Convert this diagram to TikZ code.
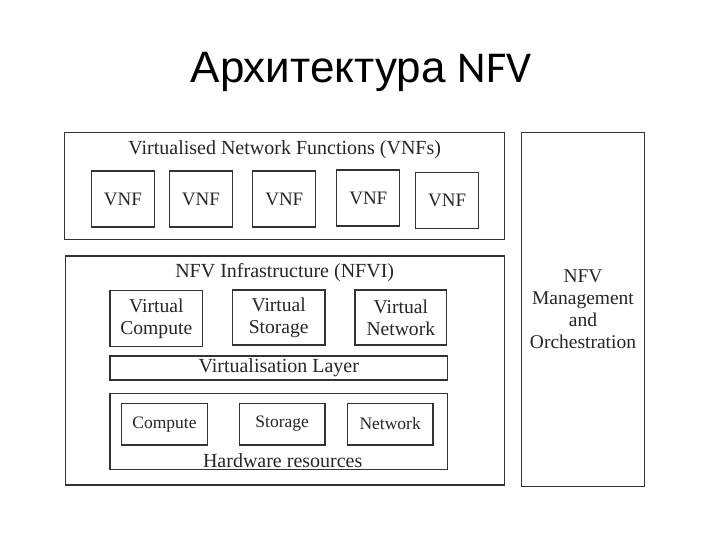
\documentclass[tikz,border=0pt]{standalone}
\usepackage{fontspec}
\setmainfont{Liberation Serif}
\newfontfamily\titlefont{Liberation Sans}
\newfontfamily\calibrifont{Carlito}
\usepackage{tikz}
\usetikzlibrary{positioning}

\begin{document}
\begin{tikzpicture}[
    x=1pt, y=-1pt,
    box/.style={rectangle, draw=black!80, line width=1.3pt, inner sep=0pt, align=center, text=black!85},
    lbl/.style={font=\fontsize{20}{23}\selectfont, text=black!85, inner sep=0pt},
    inner/.style={box, font=\fontsize{19.6}{22}\selectfont},
    hw/.style={box, minimum width=85.5pt, minimum height=41.7pt, font=\fontsize{17.5}{20}\selectfont}
]
\useasboundingbox[fill=white] (0,0) rectangle (720,540);

% title
\node[anchor=base, inner sep=0pt, font=\fontsize{44}{48}\selectfont] (title) at (361,82.7)
    {\titlefont Архитектура \calibrifont NFV};

% VNF layer
\node (vnfs) [box, minimum width=440pt, minimum height=107pt] at (284.7,185.7) {};
\node (vnfslbl) [lbl] at (284.7,150) {Virtualised Network Functions (VNFs)};
\foreach \i/\x/\y in {1/123/199, 2/201/199, 3/284.3/199, 4/368.3/198, 5/447.2/200.8}
    \node (vnf\i) [box, minimum width=63pt, minimum height=56pt, font=\fontsize{19}{22}\selectfont] at (\x,\y) {VNF};

% NFVI
\node (nfvi) [box, minimum width=439pt, minimum height=229pt] at (284.7,370.5) {};
\node (nfvilbl) [lbl] at (284.7,272.7) {NFV Infrastructure (NFVI)};
\node (vcomp) [inner, minimum width=92.7pt, minimum height=56pt] at (156.3,318.7) {Virtual\\Compute};
\node (vstor) [inner, minimum width=92.7pt, minimum height=55pt] at (278.7,317.5) {Virtual\\Storage};
\node (vnet) [inner, minimum width=91.7pt, minimum height=55pt] at (400.8,317.5) {Virtual\\Network};
\node (vlayer) [box, minimum width=337.7pt, minimum height=24pt, font=\fontsize{20}{23}\selectfont] at (278.8,368) {Virtualisation Layer};
\node (hwbox) [box, minimum width=337.7pt, minimum height=76pt] at (278.8,431.3) {};
\node (comp) [hw] at (164.5,424.2) {Compute};
\node (stor) [hw] at (282.2,424) {Storage};
\node (net) [hw] at (390.2,424) {Network};
\node (hwlbl) [lbl] at (282.7,460.7) {Hardware resources};

% MANO
\node (mano) [box, minimum width=122.6pt, minimum height=354.4pt, font=\fontsize{19.5}{22}\selectfont] at (583,309.5)
    {NFV\\Management\\and\\Orchestration};
\end{tikzpicture}
\end{document}
